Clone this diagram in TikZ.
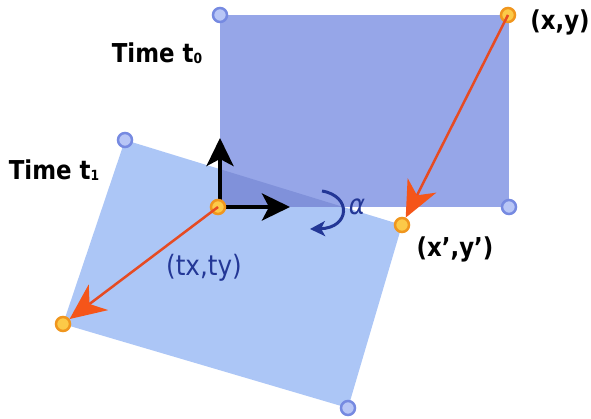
\documentclass[tikz,border=0pt]{standalone}
\usepackage{fontspec}
\setmainfont{DejaVu Sans}[FakeStretch=0.88]
\usetikzlibrary{arrows.meta}
\definecolor{tzero}{RGB}{150,166,232}
\definecolor{tone}{RGB}{172,198,246}
\definecolor{overlapc}{RGB}{128,145,218}
\definecolor{cblue}{RGB}{118,138,225}
\definecolor{cbluefill}{RGB}{184,198,246}
\definecolor{corange}{RGB}{240,150,30}
\definecolor{corangefill}{RGB}{252,202,72}
\definecolor{redline}{RGB}{230,75,35}
\definecolor{redhead}{RGB}{245,85,25}
\definecolor{bluetext}{RGB}{35,55,150}
\tikzset{
  bluedot/.style={circle,draw=cblue,fill=cbluefill,line width=2.5pt,minimum size=14pt,inner sep=0pt},
  orangedot/.style={circle,draw=corange,fill=corangefill,line width=2.5pt,minimum size=14pt,inner sep=0pt},
  motion/.style={draw=redline,line width=2.5pt,-{Stealth[length=36pt,width=32pt,inset=11pt,color=redhead]}},
  axis/.style={draw=black,line width=4pt,-{Stealth[length=28pt,width=27pt,inset=7pt]}},
  boldlabel/.style={font=\fontsize{26}{30}\selectfont\bfseries,inner sep=0pt},
  bluelabel/.style={font=\fontsize{28}{32}\selectfont,text=bluetext,inner sep=0pt}
}
\begin{document}
\begin{tikzpicture}[x=1pt,y=-1pt]
\useasboundingbox (0,0) rectangle (591,419);
% rectangles
\fill[tone] (63,324) -- (348,408) -- (402,225) -- (125,140) -- cycle;
\fill[tzero] (220,15) rectangle (509,207);
\begin{scope}
  \clip (220,15) rectangle (509,207);
  \fill[overlapc] (63,324) -- (348,408) -- (402,225) -- (125,140) -- cycle;
\end{scope}
% axes
\coordinate (org) at (220,207);
\coordinate (yend) at (220,138);
\coordinate (xend) at (290,207);
\draw[axis] (org) -- (yend);
\draw[axis] (org) -- (xend);
% rotation arrow
\coordinate (rs) at (322,191);
\coordinate (re) at (310,229);
\draw[draw=bluetext,line width=3pt,-{Stealth[length=15pt,width=15pt,inset=4pt]}]
  (rs) .. controls (352,196) and (350,228) .. (re);
\node[font=\fontsize{28}{30}\selectfont\itshape,text=bluetext,inner sep=0pt] (alpha) at (357,207) {α};
% corner dots
\node[bluedot] (a0) at (220,15) {};
\node[bluedot] (c0) at (509,207) {};
\node[bluedot] (a1) at (125,140) {};
\node[bluedot] (c1) at (348,408) {};
\node[orangedot] (xy) at (508,15) {};
\node[orangedot] (xyp) at (402,225) {};
\node[orangedot] (t1o) at (63,324) {};
\node[orangedot] (o1) at (218,207) {};
% motion arrows
\draw[motion] (xy.center) -- (xyp);
\draw[motion] (o1.center) -- (t1o);
% labels
\node[boldlabel] (lt0) at (157,53) {Time t\raisebox{-1pt}{\fontsize{14}{14}\selectfont 0}};
\node[boldlabel] (lt1) at (54,170) {Time t\raisebox{-1pt}{\fontsize{14}{14}\selectfont 1}};
\node[boldlabel] (lxy) at (560,22) {(x,y)};
\node[boldlabel] (lxyp) at (455,249) {(x',y')};
\node[bluelabel] (ltxy) at (204,268) {(tx,ty)};
\end{tikzpicture}
\end{document}
